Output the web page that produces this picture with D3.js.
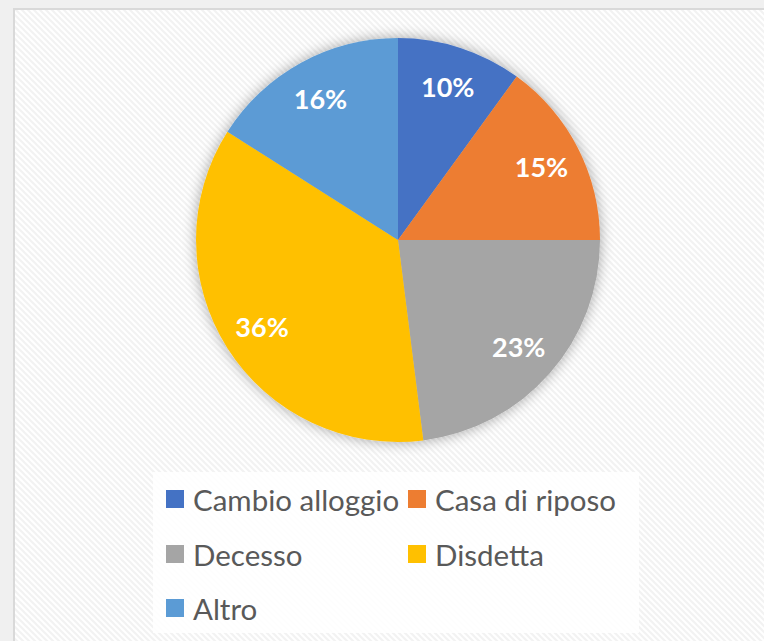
<!DOCTYPE html>
<html><head><meta charset="utf-8">
<script src="https://cdn.jsdelivr.net/npm/d3@7"></script>
<style>html,body{margin:0;padding:0;background:#f0f0f0;}svg{display:block;}</style>
</head><body>
<svg id="chart" width="764" height="641"></svg>
<script>
const categories = ["Cambio alloggio", "Casa di riposo", "Decesso", "Disdetta", "Altro"];
const values = [10, 15, 23, 36, 16];
const labels = ["10%", "15%", "23%", "36%", "16%"];
const colors = ["#4472C4", "#ED7D31", "#A5A5A5", "#FFC000", "#5B9BD5"];

const svg = d3.select("#chart");
const defs = svg.append("defs");
const pat = defs.append("pattern").attr("id","hatch").attr("patternUnits","userSpaceOnUse")
  .attr("width",6).attr("height",6);
pat.append("rect").attr("width",6).attr("height",6).attr("fill","#ffffff");
pat.append("path").attr("d","M-1,-1 L7,7 M-1,5 L1,7 M5,-1 L7,1").attr("stroke","#f2f2f2").attr("stroke-width",2);
const f = defs.append("filter").attr("id","shadow").attr("x","-20%").attr("y","-20%").attr("width","140%").attr("height","140%");
f.append("feGaussianBlur").attr("in","SourceAlpha").attr("stdDeviation",7).attr("result","b");
f.append("feOffset").attr("in","b").attr("dx",0).attr("dy",0).attr("result","o");
f.append("feComponentTransfer").attr("in","o").attr("result","s").append("feFuncA").attr("type","linear").attr("slope",0.35);
const m = f.append("feMerge"); m.append("feMergeNode").attr("in","s"); m.append("feMergeNode").attr("in","SourceGraphic");

// chart area
svg.append("rect").attr("x",14).attr("y",9).attr("width",760).attr("height",640)
  .attr("fill","url(#hatch)").attr("stroke","#d9d9d9").attr("stroke-width",2);

const cx = 398, cy = 240, R = 202;
const pie = d3.pie().sort(null).value(d => d)(values);
const arc = d3.arc().innerRadius(0).outerRadius(R);
const labelArc = d3.arc().innerRadius(161).outerRadius(161);
const g = svg.append("g").attr("transform",`translate(${cx},${cy})`);
g.append("g").attr("filter","url(#shadow)").selectAll("path").data(pie).join("path")
  .attr("d", arc).attr("fill",(d,i)=>colors[i]);
g.selectAll("text").data(pie).join("text")
  .attr("transform", d => `translate(${labelArc.centroid(d)})`)
  .attr("text-anchor","middle").attr("dominant-baseline","central")
  .attr("font-family","Lato, 'Open Sans', sans-serif").attr("font-weight","bold").attr("font-size",27)
  .attr("fill","#ffffff").text((d,i)=>labels[i]);

// legend
svg.append("rect").attr("x",153).attr("y",472).attr("width",486).attr("height",161).attr("fill","#ffffff").attr("opacity",0.85);
const lg = svg.append("g");
const cols = [166, 408], rows = [490, 545, 599];
categories.forEach((c,i)=>{
  const x = cols[i%2], y = rows[Math.floor(i/2)];
  lg.append("rect").attr("x",x).attr("y",y).attr("width",18).attr("height",18).attr("fill",colors[i]);
  lg.append("text").attr("x",x+27).attr("y",y+9).attr("dominant-baseline","central")
    .attr("font-family","Lato, 'Open Sans', sans-serif").attr("font-size",29.5).attr("fill","#595959").text(c);
});
</script>
</body></html>
